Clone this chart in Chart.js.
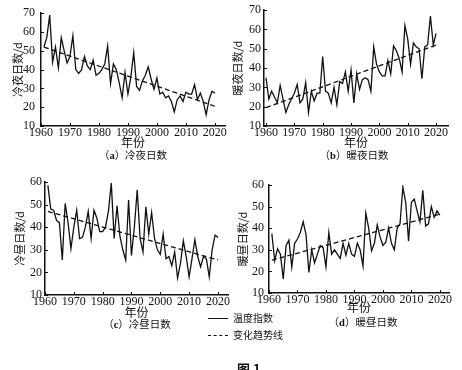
<!DOCTYPE html>
<html>
<head>
<meta charset="utf-8">
<script src="https://cdn.jsdelivr.net/npm/chart.js@4.4.1/dist/chart.umd.min.js"></script>
<style>
  html, body { margin: 0; padding: 0; background: #fff; }
  #page { position: relative; width: 462px; height: 370px; overflow: hidden; color: #111;
          font-family: "Noto Sans CJK SC", "Liberation Serif", serif; }
  canvas { position: absolute; }
  .sub { position: absolute; font-size: 10.5px; line-height: 12px; white-space: nowrap; transform: translate(-50%, -50%); }
  .sub b { font-family: "Liberation Serif", serif; }
  .leg { position: absolute; font-size: 10px; line-height: 12px; white-space: nowrap; transform: translateY(-50%); }
  .swatch { position: absolute; width: 20px; height: 0; border-top: 1px solid #111; }
  .swatch.dash { border-top-style: dashed; }
  .fig { position: absolute; left: 237px; top: 362px; font-size: 13px; font-weight: bold; line-height: 14px; }
</style>
</head>
<body>
<div id="page">
  <canvas id="panelA" width="231" height="150" style="left:0;top:0"></canvas>
  <canvas id="panelB" width="231" height="150" style="left:231px;top:0"></canvas>
  <canvas id="panelC" width="231" height="150" style="left:0;top:170px"></canvas>
  <canvas id="panelD" width="231" height="145" style="left:231px;top:170px"></canvas>

  <div class="sub" style="left:133px;top:155px">（<b>a</b>）冷夜日数</div>
  <div class="sub" style="left:354px;top:155px">（<b>b</b>）暖夜日数</div>
  <div class="sub" style="left:137px;top:324px">（<b>c</b>）冷昼日数</div>
  <div class="sub" style="left:363px;top:322px">（<b>d</b>）暖昼日数</div>

  <div class="swatch" style="left:208px;top:318px"></div>
  <div class="leg" style="left:233px;top:318px">温度指数</div>
  <div class="swatch dash" style="left:208px;top:335px"></div>
  <div class="leg" style="left:233px;top:335px">变化趋势线</div>

  <div class="fig">图 1</div>
</div>

<script>
// tick labels
const yearTicks = [1960, 1970, 1980, 1990, 2000, 2010, 2020];
const nightTicks = [10, 20, 30, 40, 50, 60, 70];
const dayTicks = [10, 20, 30, 40, 50, 60];

// (a) cold nights, 1961-2020
const coldNightsStart = 1961;
const coldNights = [52, 57, 69, 44, 52, 41, 57, 50, 43.5, 47,
  58, 40, 38, 40, 47, 42, 40, 45, 37, 38,
  40, 43, 52.5, 32.5, 43, 40, 33, 25, 38.5, 27,
  36, 49, 31, 29, 34, 37, 41.5, 35, 29.5, 35.5,
  27, 28, 25, 26, 23, 17.5, 24, 26, 23, 28,
  27, 27, 32, 24, 27.5, 23, 16, 24, 28.5, 27.5];
const coldNightsTrend = [[1961, 52], [2020, 20.5]];

// (b) warm nights, 1960-2020
const warmNightsStart = 1960;
const warmNights = [35, 24, 28, 25, 22, 31, 24, 17, 21, 24,
  27, 31.5, 22, 24, 32.5, 17, 28, 23, 27, 27,
  46, 28, 27, 22, 30, 21, 33, 32, 38, 28,
  39, 22, 37, 29, 34, 35, 34, 28, 51, 42,
  38, 36, 36, 44, 37, 51.5, 49, 45, 38, 62,
  55, 42, 53, 51, 50, 34.5, 51, 52, 67, 52, 58];
const warmNightsTrend = [[1960, 19.5], [2020, 52]];

// (c) cold days, 1961-2020
const coldDaysStart = 1961;
const coldDays = [58.5, 48, 47.5, 43, 42, 25.5, 50.5, 42, 30.5, 40,
  47.5, 35, 35.5, 40, 47, 35, 47.5, 44, 38, 38,
  40, 47, 59.5, 35, 49.5, 36, 30, 25.5, 52, 27.5,
  40, 56.5, 35, 29, 49, 37, 46.5, 35, 30, 28,
  37, 26, 27, 23, 29, 17.5, 24, 34, 27, 18,
  26, 34.5, 27, 22.5, 27, 26, 18, 30, 36.5, 35.5];
const coldDaysTrend = [[1961, 47], [2020, 25.5]];

// (d) warm days, 1961-2020
const warmDaysStart = 1961;
const warmDays = [37.5, 25, 30.5, 28, 16.5, 32, 34.5, 22, 33, 35,
  38, 43, 37, 19.5, 30, 24, 28, 32, 31, 22,
  38, 28, 30, 28, 26, 33, 27.5, 33, 28, 27,
  33, 30, 22.5, 47, 40, 29.5, 33, 41.5, 36, 32,
  33.5, 40, 33, 30, 40, 42, 59, 52, 34, 52,
  53.5, 48, 43, 57.5, 41, 42, 50, 45, 48, 46];
const warmDaysTrend = [[1961, 25.2], [2020, 46.5]];

const INK = '#111';
const NUM_FONT = { family: '"Liberation Serif", serif', size: 12 };
const CJK_FONT = { family: '"Noto Sans CJK SC", sans-serif', size: 11 };

const innerTicks = {
  id: 'innerTicks',
  afterDraw(chart) {
    const { ctx, chartArea, scales } = chart;
    ctx.save();
    ctx.strokeStyle = INK;
    ctx.lineWidth = 1;
    scales.x.ticks.forEach(t => {
      const px = Math.round(scales.x.getPixelForValue(t.value)) + 0.5;
      ctx.beginPath();
      ctx.moveTo(px, chartArea.bottom);
      ctx.lineTo(px, chartArea.bottom - 3);
      ctx.stroke();
    });
    scales.y.ticks.forEach(t => {
      const py = Math.round(scales.y.getPixelForValue(t.value)) + 0.5;
      ctx.beginPath();
      ctx.moveTo(chartArea.left, py);
      ctx.lineTo(chartArea.left + 3, py);
      ctx.stroke();
    });
    ctx.restore();
  }
};

function toPoints(start, values) {
  return values.map((v, i) => ({ x: start + i, y: v }));
}

function makePanel(id, p) {
  new Chart(document.getElementById(id), {
    type: 'line',
    data: {
      datasets: [
        {
          data: toPoints(p.start, p.values),
          borderColor: INK,
          borderWidth: 1.3,
          pointRadius: 0,
          tension: 0,
        },
        {
          data: p.trend.map(([x, y]) => ({ x, y })),
          borderColor: INK,
          borderWidth: 1.3,
          borderDash: [5, 3],
          pointRadius: 0,
        },
      ],
    },
    options: {
      responsive: false,
      animation: false,
      devicePixelRatio: 1,
      layout: { padding: { left: 0, right: p.padRight, top: p.padTop, bottom: 0 } },
      plugins: { legend: { display: false }, tooltip: { enabled: false } },
      scales: {
        x: {
          type: 'linear',
          min: p.xMin,
          max: p.xMax,
          afterBuildTicks: s => { s.ticks = yearTicks.map(v => ({ value: v })); },
          afterFit: s => { s.height = p.xHeight; },
          grid: { display: false, drawTicks: false },
          border: { display: true, color: INK, width: 1.5 },
          ticks: { color: INK, font: NUM_FONT, padding: 0, maxRotation: 0, autoSkip: false, callback: v => String(v) },
          title: { display: true, text: '年份', color: INK, font: { ...CJK_FONT, size: 12 }, padding: 0 },
        },
        y: {
          min: p.yTicks[0],
          max: p.yTicks[p.yTicks.length - 1],
          afterBuildTicks: s => { s.ticks = p.yTicks.map(v => ({ value: v })); },
          afterFit: s => { s.width = p.yWidth; },
          grid: { display: false, drawTicks: false },
          border: { display: true, color: INK, width: 1.5 },
          ticks: { color: INK, font: NUM_FONT, padding: p.yPad, callback: v => String(v) },
          title: { display: true, text: p.yTitle, color: INK, font: CJK_FONT, padding: { top: p.yTitleOffset, bottom: 0 } },
        },
      },
    },
    plugins: [innerTicks],
  });
}

makePanel('panelA', {
  start: coldNightsStart, values: coldNights, trend: coldNightsTrend,
  yTicks: nightTicks, yTitle: '冷夜日数/d',
  xMin: 1960, xMax: 2023.5, yWidth: 41, xHeight: 24, padRight: 6, padTop: 7, yPad: 6, yTitleOffset: 11,
});
makePanel('panelB', {
  start: warmNightsStart, values: warmNights, trend: warmNightsTrend,
  yTicks: nightTicks, yTitle: '暖夜日数/d',
  xMin: 1959.3, xMax: 2024.2, yWidth: 33, xHeight: 24, padRight: 14, padTop: 7, yPad: 3, yTitleOffset: 0,
});
makePanel('panelC', {
  start: coldDaysStart, values: coldDays, trend: coldDaysTrend,
  yTicks: dayTicks, yTitle: '冷昼日数/d',
  xMin: 1960, xMax: 2023.5, yWidth: 45, xHeight: 25, padRight: 3, padTop: 12, yPad: 3, yTitleOffset: 13,
});
makePanel('panelD', {
  start: warmDaysStart, values: warmDays, trend: warmDaysTrend,
  yTicks: dayTicks, yTitle: '暖昼日数/d',
  xMin: 1960, xMax: 2023.2, yWidth: 38, xHeight: 22, padRight: 13, padTop: 15, yPad: 5, yTitleOffset: 5,
});
</script>
</body>
</html>
